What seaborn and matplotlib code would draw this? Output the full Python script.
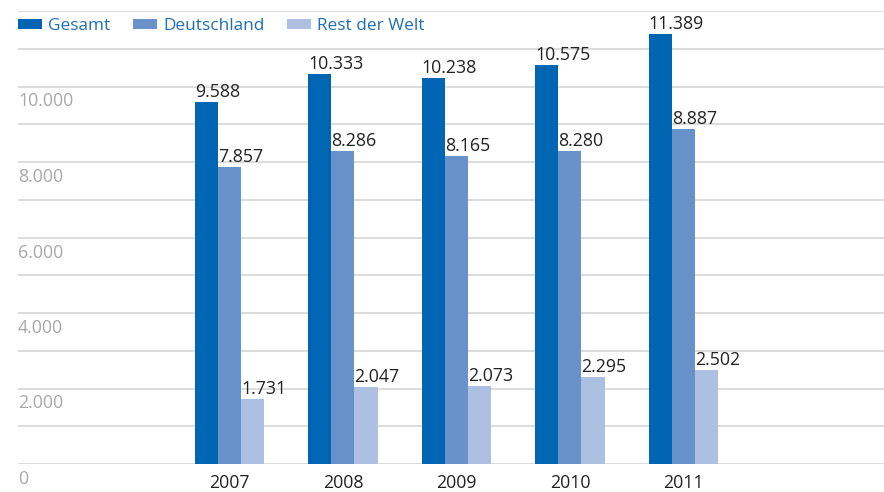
import matplotlib
matplotlib.use("Agg")
import matplotlib.pyplot as plt
import matplotlib.transforms as mtransforms
import seaborn as sns
import pandas as pd

# Data
years = ["2007", "2008", "2009", "2010", "2011"]
series = ["Gesamt", "Deutschland", "Rest der Welt"]
gesamt = [9588, 10333, 10238, 10575, 11389]
deutschland = [7857, 8286, 8165, 8280, 8887]
rest_der_welt = [1731, 2047, 2073, 2295, 2502]
y_labels = [0, 2000, 4000, 6000, 8000, 10000]

colors = ["#0066B3", "#6893CA", "#ADC0E2"]
text_blue = "#1E6EB6"
grid_col = "#D9D9D9"
label_grey = "#A8A8A8"
dark = "#222222"
FS = 12.8

df = pd.DataFrame({
    "Jahr": years * 3,
    "Reihe": [series[0]] * 5 + [series[1]] * 5 + [series[2]] * 5,
    "Wert": gesamt + deutschland + rest_der_welt,
})

sns.set_theme(style="white")
plt.rcParams["font.family"] = ["Open Sans", "DejaVu Sans"]

W, H = 884, 492
fig = plt.figure(figsize=(W / 100, H / 100), dpi=100)
# axes box in pixel coordinates: left 18, right 884, top 11, bottom 464
ax = fig.add_axes([18 / W, 1 - 464 / H, (884 - 18) / W, (464 - 11) / H])

sns.barplot(data=df, x="Jahr", y="Wert", hue="Reihe", palette=colors,
            width=0.61, gap=0, saturation=1, ax=ax, legend=True,
            edgecolor="none", linewidth=0)

ax.set_ylim(0, 12000)
ax.set_xlim(-1.863, 5.767)
ax.set_yticks(range(0, 13000, 1000))
ax.yaxis.grid(True, color=grid_col, linewidth=1.3)
ax.set_axisbelow(True)
ax.tick_params(axis="y", left=False, labelleft=False)
ax.tick_params(axis="x", bottom=False, labelsize=FS, labelcolor=dark, pad=1.5)
ax.set_xlabel("")
ax.set_ylabel("")
for s in ax.spines.values():
    s.set_visible(False)

# y labels sit just below their grid lines
fmt = lambda v: f"{v:,}".replace(",", ".")
off = mtransforms.ScaledTranslation(0, -15 / 100, fig.dpi_scale_trans)
trans = mtransforms.blended_transform_factory(ax.transAxes, ax.transData) + off
for v in y_labels:
    ax.text(0.0, v, fmt(v), transform=trans, ha="left", va="center",
            fontsize=FS, color=label_grey)

# value labels, left aligned on each bar
for cont in ax.containers:
    for bar in cont:
        h = bar.get_height()
        ax.annotate(fmt(int(round(h))), (bar.get_x(), h),
                    xytext=(0, 5), textcoords="offset pixels",
                    ha="left", va="baseline", fontsize=FS, color=dark)

handles, labels = ax.get_legend_handles_labels()
leg = ax.legend(handles, labels, loc="upper left",
                bbox_to_anchor=(18 / W, 1 - 18 / H),
                bbox_transform=fig.transFigure, ncol=3, frameon=False,
                fontsize=12.4, handlelength=1.38, handleheight=0.46,
                handletextpad=0.38, columnspacing=1.3, borderpad=0,
                borderaxespad=0)
for t in leg.get_texts():
    t.set_color(text_blue)

fig.savefig("out.png", dpi=100)
